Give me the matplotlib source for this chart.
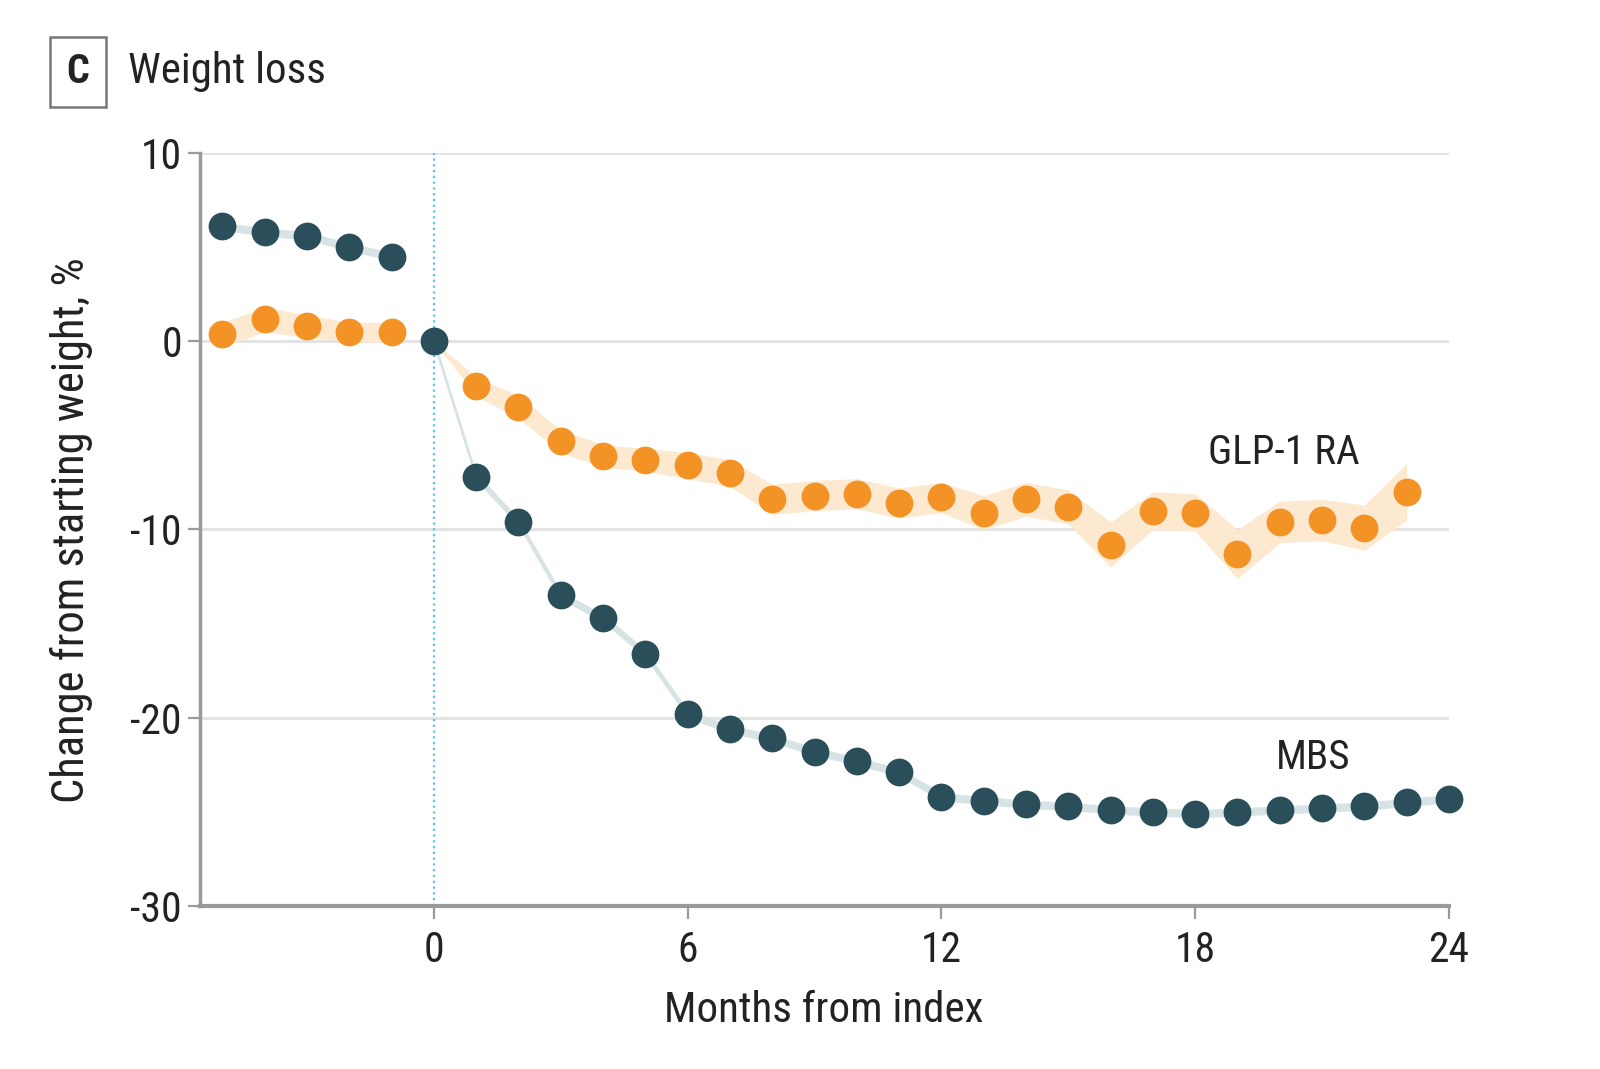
import matplotlib
matplotlib.use("Agg")
import matplotlib.pyplot as plt
import numpy as np

plt.rcParams['font.family'] = ['Roboto Condensed', 'Open Sans Condensed', 'Liberation Sans Narrow',
                               'Liberation Sans', 'DejaVu Sans']

# ---- data ----
pre_months = [-5, -4, -3, -2, -1]
mbs_pre = [6.1, 5.8, 5.6, 5.0, 4.5]
glp_pre = [0.4, 1.2, 0.8, 0.5, 0.5]
glp_pre_lo = [-0.3, 0.5, 0.2, 0.0, -0.1]
glp_pre_hi = [1.0, 1.8, 1.4, 1.0, 1.0]

mbs_months = list(range(0, 25))
mbs_post = [0, -7.2, -9.6, -13.5, -14.7, -16.6, -19.8, -20.6, -21.1, -21.8, -22.3,
            -22.9, -24.2, -24.4, -24.6, -24.7, -24.9, -25.0, -25.1, -25.0, -24.9,
            -24.8, -24.7, -24.5, -24.3]

glp_months = list(range(0, 24))
glp_post = [0, -2.4, -3.5, -5.3, -6.1, -6.3, -6.6, -7.0, -8.4, -8.2, -8.1, -8.6,
            -8.3, -9.1, -8.4, -8.8, -10.8, -9.0, -9.1, -11.3, -9.6, -9.5, -9.9, -8.0]
glp_post_lo = [0, -2.9, -4.1, -5.9, -6.7, -6.9, -7.3, -7.7, -9.2, -9.0, -8.9, -9.4,
               -9.1, -10.0, -9.3, -9.7, -12.0, -10.0, -10.1, -12.6, -10.7, -10.6, -11.1, -9.5]
glp_post_hi = [0, -1.9, -2.9, -4.7, -5.5, -5.7, -5.9, -6.3, -7.6, -7.4, -7.3, -7.8,
               -7.5, -8.2, -7.5, -7.9, -9.6, -8.0, -8.1, -10.0, -8.5, -8.4, -8.7, -6.5]
mbs_band = 0.22

x_ticks = [0, 6, 12, 18, 24]
y_ticks = [-30, -20, -10, 0, 10]

# ---- style ----
DARK = '#2a4f5b'
ORANGE = '#f39325'
ORANGE_BAND = '#fde8d0'
DARK_BAND = '#d8e3e5'
GRID = '#e3e3e3'
SPINE = '#9a9a9a'
TXT = '#222222'

fig = plt.figure(figsize=(16, 10.69), dpi=100)
ax = fig.add_axes([0.125, 0.1525, 0.7806, 0.7044])
ax.set_xlim(-5.53, 24)
ax.set_ylim(-30, 10)

for yv in y_ticks[1:]:
    ax.axhline(yv, color=GRID, lw=2.2, zorder=0.5, xmax=1.0)

ax.axvline(0, color='#5cc3ee', lw=1.6, ls=(0, (1, 1.6)), zorder=1)

mp = np.array(pre_months)
mm = np.array(mbs_months)
gm = np.array(glp_months)

# bands
ax.fill_between(mp, glp_pre_lo, glp_pre_hi, color=ORANGE_BAND, lw=0, zorder=1.5)
ax.fill_between(gm, glp_post_lo, glp_post_hi, color=ORANGE_BAND, lw=0, zorder=1.5)
ax.plot(gm, glp_post, color=ORANGE_BAND, lw=3, zorder=1.6)
ax.plot(mp, glp_pre, color=ORANGE_BAND, lw=3, zorder=1.6)
ax.fill_between(mp, np.array(mbs_pre) - mbs_band, np.array(mbs_pre) + mbs_band,
                color=DARK_BAND, lw=0, zorder=1.7)
ax.fill_between(mm, np.array(mbs_post) - mbs_band, np.array(mbs_post) + mbs_band,
                color=DARK_BAND, lw=0, zorder=1.7)
ax.plot(mm, mbs_post, color=DARK_BAND, lw=1.5, zorder=1.8)
ax.plot(mp, mbs_pre, color=DARK_BAND, lw=1.5, zorder=1.8)

# points
ms = 20
ax.plot(mp, glp_pre, 'o', color=ORANGE, ms=ms, mec='none', zorder=3)
ax.plot(gm[1:], glp_post[1:], 'o', color=ORANGE, ms=ms, mec='none', zorder=3)
ax.plot(mp, mbs_pre, 'o', color=DARK, ms=ms, mec='none', zorder=4)
ax.plot(mm, mbs_post, 'o', color=DARK, ms=ms, mec='none', zorder=4, clip_on=False)

# labels
ax.text(20.1, -5.9, 'GLP-1 RA', fontsize=29.5, color=TXT, ha='center', va='center')
ax.text(20.8, -22.1, 'MBS', fontsize=29.5, color=TXT, ha='center', va='center')

# axes styling
for s in ['top', 'right']:
    ax.spines[s].set_visible(False)
ax.spines['left'].set_color(SPINE)
ax.spines['left'].set_linewidth(2.5)
ax.spines['bottom'].set_color(SPINE)
ax.spines['bottom'].set_linewidth(3)
ax.set_xticks(x_ticks)
ax.set_yticks(y_ticks)
ax.set_xticklabels([str(v) for v in x_ticks])
ax.set_yticklabels([str(v) for v in y_ticks])
ax.tick_params(axis='both', colors=SPINE, labelcolor=TXT, labelsize=30, length=9, width=1.6)
ax.tick_params(axis='x', pad=8)
ax.tick_params(axis='y', pad=4)

fig.text(824 / 1600, 1 - 1010 / 1069, 'Months from index', fontsize=31, color=TXT,
         ha='center', va='center')
fig.text(72 / 1600, 1 - 530 / 1069, 'Change from starting weight, %', fontsize=32,
         color=TXT, ha='center', va='center', rotation=90)

fig.text(78 / 1600, 1 - 72 / 1069, 'C', fontsize=29, color=TXT, ha='center', va='center',
         fontweight='bold',
         bbox=dict(boxstyle='square,pad=0.4', fc='white', ec='#777777', lw=1.8))
fig.text(128 / 1600, 1 - 72 / 1069, 'Weight loss', fontsize=31, color=TXT,
         ha='left', va='center')

fig.savefig('out.png', dpi=100, facecolor='white')
